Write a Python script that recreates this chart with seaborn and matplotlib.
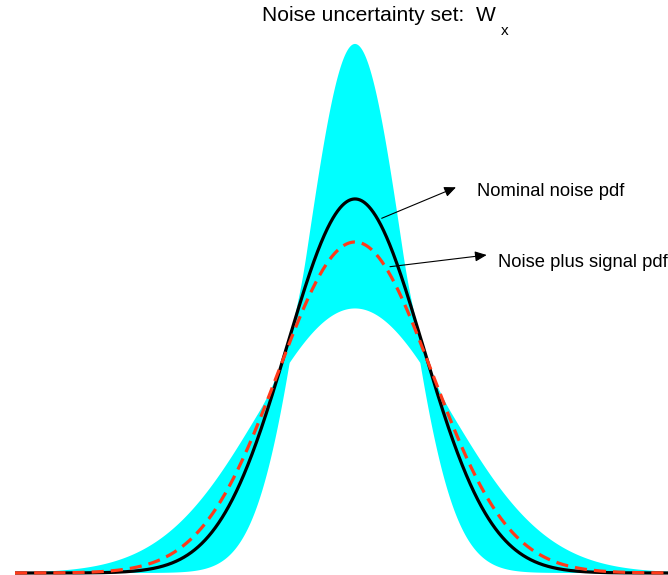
import numpy as np
import pandas as pd
import matplotlib
matplotlib.use("Agg")
import matplotlib.pyplot as plt
from matplotlib.patches import ArrowStyle
import seaborn as sns

# Standard deviations, in units of the nominal noise standard deviation
nominal_sigma = 1.0
signal_plus_noise_sigma = 1.13
uncertainty_sigma_bounds = [0.707, 1.414]   # noise variance known only within a factor of 2
x_limits = [-5.0, 5.0]

series_labels = ["Nominal noise pdf", "Noise plus signal pdf"]
title_text = "Noise uncertainty set:  W"
title_subscript = "x"

W, H = 668, 575
sns.set_theme(style="white")
plt.rcParams["font.family"] = ["Liberation Sans", "DejaVu Sans"]
plt.rcParams["text.color"] = "black"


def gauss(x, s):
    return np.exp(-x ** 2 / (2 * s ** 2)) / (s * np.sqrt(2 * np.pi))


x = np.linspace(x_limits[0], x_limits[1], 2001)
s_lo, s_hi = uncertainty_sigma_bounds
# envelope of the whole family of pdfs with sigma in [s_lo, s_hi]
s_star = np.clip(np.abs(x), s_lo, s_hi)
upper = gauss(x, s_star)
lower = np.minimum(gauss(x, s_lo), gauss(x, s_hi))

df = pd.DataFrame({
    "x": x,
    "nominal": gauss(x, nominal_sigma),
    "signal": gauss(x, signal_plus_noise_sigma),
})

fig = plt.figure(figsize=(W / 100, H / 100), dpi=100)
px_per_x = 68.0
px_per_y = 937.6
x0_px, base_px = 355.0, 573.0
ylim = (-0.01, 0.6)
ax = fig.add_axes([
    (x0_px + x_limits[0] * px_per_x) / W,
    (H - (base_px - ylim[0] * px_per_y)) / H,
    (x_limits[1] - x_limits[0]) * px_per_x / W,
    (ylim[1] - ylim[0]) * px_per_y / H,
])
ax.set_xlim(*x_limits)
ax.set_ylim(*ylim)
ax.axis("off")

ax.fill_between(x, lower, upper, color="#00FFFF", lw=0, zorder=1)
sns.lineplot(data=df, x="x", y="nominal", color="black", lw=2.3, ax=ax, zorder=3)
sns.lineplot(data=df, x="x", y="signal", color="#FF3A1A", lw=2.3,
             linestyle=(0, (3.8, 2.2)), ax=ax, zorder=4)


def fp(px, py):
    return (px / W, 1 - py / H)


fig.text(*fp(261.7, 21), title_text, fontsize=15.1, ha="left", va="baseline",
         color="black")
fig.text(*fp(500.7, 35), title_subscript, fontsize=11, ha="left", va="baseline",
         color="black")

arrow = ArrowStyle("-|>", head_length=0.5, head_width=0.22)
for (start, tip, text_xy), label in zip(
        [((381.7, 218.3), (456.0, 187.3), (476.7, 196.0)),
         ((390.0, 266.7), (486.7, 255.0), (498.3, 266.7))],
        series_labels):
    ax.annotate("", xy=fp(*tip), xycoords="figure fraction",
                xytext=fp(*start), textcoords="figure fraction",
                arrowprops=dict(arrowstyle=arrow, color="black", lw=0.8,
                                mutation_scale=14, shrinkA=0, shrinkB=0))
    fig.text(*fp(*text_xy), label, fontsize=13.2, ha="left", va="baseline",
             color="black")

fig.savefig("out.png", dpi=100)
